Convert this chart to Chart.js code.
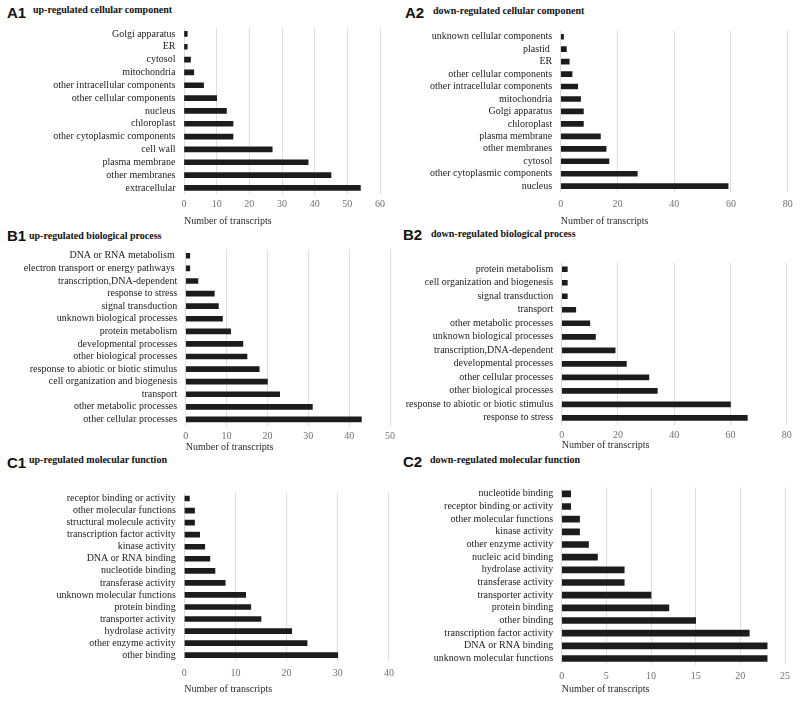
<!DOCTYPE html>
<html><head><meta charset="utf-8">
<script src="https://cdn.jsdelivr.net/npm/chart.js@4"></script>
<style>
body{margin:0;background:#fff;width:800px;height:702px;position:relative;overflow:hidden}
canvas{position:absolute}
.lt{position:absolute;font:bold 15px "Liberation Sans";line-height:15px;color:#111;white-space:nowrap}
.tt{position:absolute;font:bold 10px "Liberation Serif";line-height:10px;color:#111;white-space:nowrap}
</style></head><body>
<div class="lt" style="left:7px;top:4.6px">A1</div>
<div class="tt" style="left:33px;top:4.6px">up-regulated cellular component</div>
<div class="lt" style="left:405px;top:4.6px">A2</div>
<div class="tt" style="left:433px;top:5.6px">down-regulated cellular component</div>
<div class="lt" style="left:7px;top:228px">B1</div>
<div class="tt" style="left:29px;top:230.8px">up-regulated biological process</div>
<div class="lt" style="left:403px;top:227.3px">B2</div>
<div class="tt" style="left:431px;top:229px">down-regulated biological process</div>
<div class="lt" style="left:7px;top:455.3px">C1</div>
<div class="tt" style="left:29px;top:455px">up-regulated molecular function</div>
<div class="lt" style="left:403px;top:454.3px">C2</div>
<div class="tt" style="left:430px;top:455px">down-regulated molecular function</div>
<script>
// ---- data (top-to-bottom order as in the picture) ----
const a1Categories = ["Golgi apparatus","ER","cytosol","mitochondria","other intracellular components","other cellular components","nucleus","chloroplast","other cytoplasmic components","cell wall","plasma membrane","other membranes","extracellular"];
const a1Values = [1,1,2,3,6,10,13,15,15,27,38,45,54];

const a2Categories = ["unknown cellular components","plastid ","ER","other cellular components","other intracellular components","mitochondria","Golgi apparatus","chloroplast","plasma membrane","other membranes","cytosol","other cytoplasmic components","nucleus"];
const a2Values = [1,2,3,4,6,7,8,8,14,16,17,27,59];

const b1Categories = ["DNA or RNA metabolism ","electron transport or energy pathways ","transcription,DNA-dependent","response to stress","signal transduction","unknown biological processes","protein metabolism","developmental processes","other biological processes","response to abiotic or biotic stimulus","cell organization and biogenesis","transport","other metabolic processes","other cellular processes"];
const b1Values = [1,1,3,7,8,9,11,14,15,18,20,23,31,43];

const b2Categories = ["protein metabolism","cell organization and biogenesis","signal transduction","transport","other metabolic processes","unknown biological processes","transcription,DNA-dependent","developmental processes","other cellular processes","other biological processes","response to abiotic or biotic stimulus","response to stress"];
const b2Values = [2,2,2,5,10,12,19,23,31,34,60,66];

const c1Categories = ["receptor binding or activity","other molecular functions","structural molecule activity","transcription factor activity","kinase activity","DNA or RNA binding","nucleotide binding","transferase activity","unknown molecular functions","protein binding","transporter activity","hydrolase activity","other enzyme activity","other binding"];
const c1Values = [1,2,2,3,4,5,6,8,12,13,15,21,24,30];

const c2Categories = ["nucleotide binding","receptor binding or activity","other molecular functions","kinase activity","other enzyme activity","nucleic acid binding","hydrolase activity","transferase activity","transporter activity","protein binding","other binding","transcription factor activity","DNA or RNA binding","unknown molecular functions"];
const c2Values = [1,1,2,2,3,4,7,7,10,12,15,21,23,23];

// axis ranges (tick labels)
const a1Axis = {max:60, step:10};
const a2Axis = {max:80, step:20};
const b1Axis = {max:50, step:10};
const b2Axis = {max:80, step:20};
const c1Axis = {max:40, step:10};
const c2Axis = {max:25, step:5};
const axisTitle = "Number of transcripts";

// ---- layout (pixel geometry of each panel) ----
const panels = [
  {labels:a1Categories, values:a1Values, axis:a1Axis, left:0,   x0:184,   x1:380,   top:23.4,  bottom:194.3, tickY:204.5, titleY:221,   bar:5},
  {labels:a2Categories, values:a2Values, axis:a2Axis, left:400, x0:560.7, x1:787.7, top:26.9,  bottom:192.4, tickY:204,   titleY:221,   bar:5},
  {labels:b1Categories, values:b1Values, axis:b1Axis, left:0,   x0:185.7, x1:393.3, top:245.3, bottom:425.7, tickY:436.7, titleY:447.7, bar:5},
  {labels:b2Categories, values:b2Values, axis:b2Axis, left:400, x0:561.7, x1:786.7, top:258.1, bottom:424.6, tickY:435,   titleY:445,   bar:5},
  {labels:c1Categories, values:c1Values, axis:c1Axis, left:0,   x0:184.3, x1:393.3, top:488.5, bottom:661.2, tickY:673.3, titleY:689.3, bar:5},
  {labels:c2Categories, values:c2Values, axis:c2Axis, left:400, x0:561.7, x1:785,   top:483.5, bottom:664.8, tickY:676.7, titleY:689,   bar:6}
];

Chart.defaults.font.family = '"Liberation Serif", serif';
Chart.defaults.font.size = 10;

panels.forEach(p => {
  const cv = document.createElement('canvas');
  const cTop = Math.floor(p.top - 10);
  const H = Math.ceil(p.titleY + 8 - cTop);
  const W = 400;
  cv.width = W; cv.height = H;
  cv.style.left = p.left + 'px';
  cv.style.top = cTop + 'px';
  cv.style.width = W + 'px';
  cv.style.height = H + 'px';
  document.body.appendChild(cv);
  const xAxisH = (cTop + H) - p.bottom;
  new Chart(cv, {
    type: 'bar',
    data: {
      labels: p.labels,
      datasets: [{data: p.values, backgroundColor: '#1c1c1c', barThickness: p.bar}]
    },
    options: {
      indexAxis: 'y',
      responsive: false,
      animation: false,
      devicePixelRatio: 1,
      layout: {padding: {top: p.top - cTop, right: p.left + W - p.x1, bottom: 0, left: 0}},
      plugins: {legend: {display: false}, tooltip: {enabled: false}},
      scales: {
        x: {
          type: 'linear', min: 0, max: p.axis.max,
          ticks: {stepSize: p.axis.step, color: '#707070', padding: p.tickY - p.bottom - 6, font: {size: 10}},
          grid: {color: '#dedede', lineWidth: 1, drawTicks: false},
          border: {display: false},
          title: {display: true, text: axisTitle, align: 'start', color: '#2a2a2a', font: {size: 10}, padding: {top: 0, bottom: (cTop + H) - p.titleY - 6}},
          afterFit: s => { s.height = xAxisH; }
        },
        y: {
          type: 'category',
          ticks: {color: '#222', padding: 8.5, font: {size: 10}, autoSkip: false},
          grid: {display: false, drawTicks: false},
          border: {display: false},
          afterFit: s => { s.width = p.x0 - p.left; }
        }
      }
    }
  });
});
</script>
</body></html>
